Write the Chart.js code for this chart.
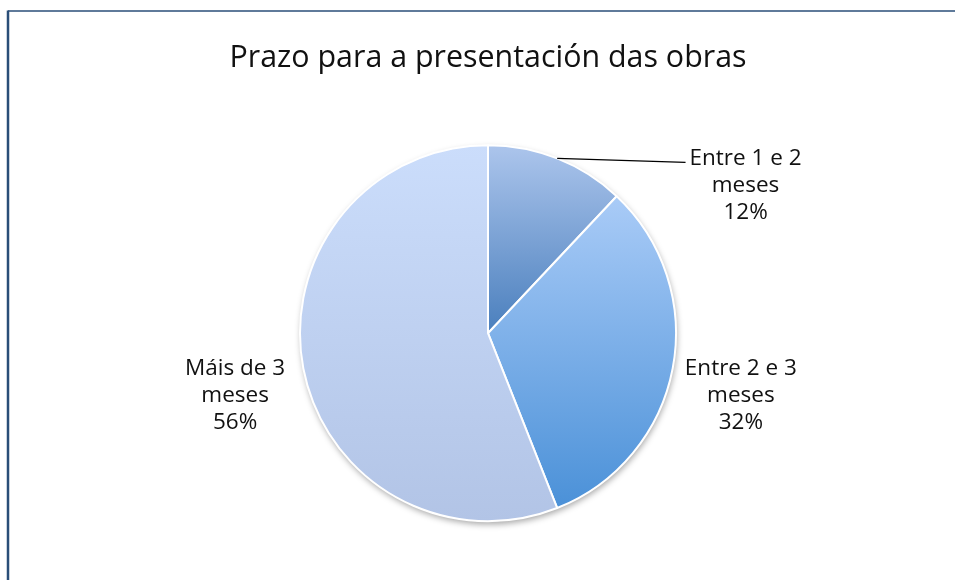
<!DOCTYPE html>
<html>
<head>
<meta charset="utf-8">
<script src="https://cdn.jsdelivr.net/npm/chart.js@4.4.1/dist/chart.umd.min.js"></script>
<style>
  html, body { margin: 0; padding: 0; background: #fff; }
  #wrap { position: relative; width: 955px; height: 580px; }
</style>
</head>
<body>
<div id="wrap"><canvas id="chart" width="955" height="580"></canvas></div>
<script>
// data
var categories = [['Entre 1 e 2', 'meses'], ['Entre 2 e 3', 'meses'], ['Máis de 3', 'meses']];
var values = [12, 32, 56];

// vertical gradients per slice (stops relative to pie top..bottom)
var sliceGradients = [
  [[0, '#acc5ec'], [0.5, '#4a7fbd'], [1, '#4a7fbd']],
  [[0, '#b1d0fa'], [0.14, '#a9cbf7'], [0.96, '#4b91d8'], [1, '#4b91d8']],
  [[0, '#cbddfb'], [1, '#b2c4e6']]
];

var PIE_RADIUS = 188;
var FONT = '"Open Sans", Lato, sans-serif';

function sliceFill(ctx) {
  var chart = ctx.chart;
  var area = chart.chartArea;
  if (!area) return '#a9c3ea';
  var cy = (area.top + area.bottom) / 2;
  var g = chart.ctx.createLinearGradient(0, cy - PIE_RADIUS, 0, cy + PIE_RADIUS);
  sliceGradients[ctx.dataIndex].forEach(function (s) { g.addColorStop(s[0], s[1]); });
  return g;
}

// frame lines at top/left, like the original sheet
var framePlugin = {
  id: 'frame',
  beforeDraw: function (chart) {
    var c = chart.ctx;
    c.save();
    c.strokeStyle = '#2a4e78';
    c.lineWidth = 1.5;
    c.beginPath();
    c.moveTo(8, 11);
    c.lineTo(955, 11);
    c.stroke();
    c.lineWidth = 2.5;
    c.beginPath();
    c.moveTo(8, 580);
    c.lineTo(8, 10.5);
    c.stroke();
    c.restore();
  }
};

// soft shadow under the pie
var shadowPlugin = {
  id: 'pieShadow',
  beforeDatasetsDraw: function (chart) {
    var arc = chart.getDatasetMeta(0).data[0];
    if (!arc) return;
    var c = chart.ctx;
    c.save();
    c.shadowColor = 'rgba(0,0,0,0.35)';
    c.shadowBlur = 6;
    c.shadowOffsetX = 1;
    c.shadowOffsetY = 3;
    c.fillStyle = '#ffffff';
    c.beginPath();
    c.arc(arc.x, arc.y, arc.outerRadius, 0, Math.PI * 2);
    c.fill();
    c.restore();
  }
};

// outside labels: category + percent, with a leader line for the small slice
var labelPlugin = {
  id: 'outLabels',
  afterDatasetsDraw: function (chart, args, opts) {
    var meta = chart.getDatasetMeta(0);
    var total = values.reduce(function (a, b) { return a + b; }, 0);
    var c = chart.ctx;
    c.save();
    c.font = opts.font;
    c.fillStyle = '#111';
    c.textAlign = 'center';
    c.textBaseline = 'middle';
    meta.data.forEach(function (arc, i) {
      var mid = (arc.startAngle + arc.endAngle) / 2;
      var r = arc.outerRadius;
      var pos = opts.anchors[i];
      var lx = arc.x + pos[0] * r;
      var ly = arc.y + pos[1] * r;
      var lines = categories[i].concat([Math.round(values[i] / total * 100) + '%']);
      lines.forEach(function (t, k) {
        c.fillText(t, lx, ly + (k - 1) * opts.lineHeight);
      });
      if (pos[2]) {
        var w = c.measureText(lines[0]).width;
        c.strokeStyle = '#000';
        c.lineWidth = 1.3;
        c.beginPath();
        c.moveTo(arc.x + Math.cos(mid) * r, arc.y + Math.sin(mid) * r);
        c.lineTo(lx - w / 2 - 4, ly - opts.lineHeight + 4);
        c.stroke();
      }
    });
    c.restore();
  }
};

new Chart(document.getElementById('chart'), {
  type: 'pie',
  data: {
    labels: categories.map(function (l) { return l.join(' '); }),
    datasets: [{
      data: values,
      backgroundColor: sliceFill,
      borderColor: '#ffffff',
      borderWidth: 2
    }]
  },
  options: {
    responsive: false,
    animation: false,
    radius: PIE_RADIUS,
    layout: { padding: { left: 21, right: 0, top: 0, bottom: 4 } },
    plugins: {
      legend: { display: false },
      tooltip: { enabled: false },
      title: {
        display: true,
        text: 'Prazo para a presentación das obras',
        color: '#111',
        font: { family: FONT, size: 30.4, weight: 'normal' },
        padding: { top: 40, bottom: 14 }
      },
      outLabels: {
        font: '22.5px ' + FONT,
        lineHeight: 27,
        anchors: [[1.37, -0.787, true], [1.345, 0.33], [-1.345, 0.33]]
      }
    }
  },
  plugins: [framePlugin, shadowPlugin, labelPlugin]
});
</script>
</body>
</html>
